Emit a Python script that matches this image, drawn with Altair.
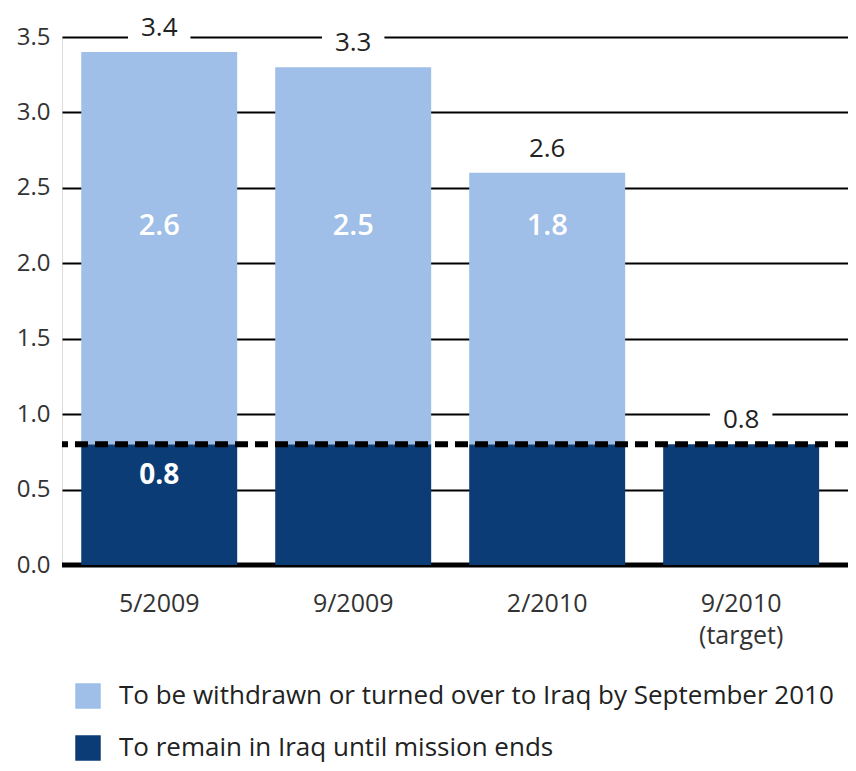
import altair as alt
import pandas as pd

dates = ["5/2009", "9/2009", "2/2010", "9/2010 (target)"]
withdrawn = [2.6, 2.5, 1.8, 0.0]
remain = [0.8, 0.8, 0.8, 0.8]
totals = [3.4, 3.3, 2.6, 0.8]
withdrawn_labels = ["2.6", "2.5", "1.8", ""]
remain_labels = ["0.8", "", "", ""]
series = ["To be withdrawn or turned over to Iraq by September 2010",
          "To remain in Iraq until mission ends"]
colors = ["#9fbfe8", "#0b3c76"]
y_ticks = [0.0, 0.5, 1.0, 1.5, 2.0, 2.5, 3.0, 3.5]
target_level = 0.8

FONT = "Open Sans"

rows = []
for d, w, r in zip(dates, withdrawn, remain):
    rows.append({"date": d, "series": series[1], "value": r, "ord": 0})
    rows.append({"date": d, "series": series[0], "value": w, "ord": 1})
df = pd.DataFrame(rows)

df_tot = pd.DataFrame({"date": dates, "total": totals, "label": [f"{t:.1f}" for t in totals]})
df_in = pd.DataFrame({"date": dates, "wl": withdrawn_labels, "rl": remain_labels})

x_enc = alt.X("date:N", sort=dates,
              scale=alt.Scale(paddingInner=0.196, paddingOuter=0.124, align=0.40),
              axis=alt.Axis(title=None, labelAngle=0, domain=False, ticks=False,
                            labelPadding=26, labelFontSize=25, labelColor="#333333",
                            labelFont=FONT, labelLineHeight=32,
                            labelExpr="datum.label == '9/2010 (target)' ? ['9/2010', '(target)'] : datum.label"))
y_scale = alt.Scale(domain=[0, 3.5], nice=False)

base = alt.Chart(df)

zero_rule = alt.Chart(pd.DataFrame({"v": [0.0]})).mark_rule(color="black", strokeWidth=5).encode(
    y=alt.Y("v:Q", scale=y_scale))

bars = base.mark_bar().encode(
    x=x_enc,
    y=alt.Y("value:Q", stack="zero", scale=y_scale,
            axis=alt.Axis(title=None, values=y_ticks, format=".1f", domain=False, ticks=False,
                          labelPadding=12, labelFontSize=24, labelColor="#333333", labelFont=FONT,
                          grid=True, gridColor="black", gridWidth=2)),
    color=alt.Color("series:N", scale=alt.Scale(domain=series, range=colors),
                    legend=alt.Legend(title=None, orient="none", legendX=13, legendY=646,
                                      symbolType="square", symbolSize=650, symbolStrokeWidth=0,
                                      labelFontSize=26, labelFont=FONT, labelColor="#222222",
                                      labelLimit=900, labelOffset=18, rowPadding=26,
                                      symbolOpacity=1)),
    order=alt.Order("ord:Q"),
)

dash = alt.Chart(pd.DataFrame({"v": [target_level]})).mark_rule(
    color="black", strokeWidth=6, strokeDash=[13, 7]).encode(y=alt.Y("v:Q", scale=y_scale))

# white box behind each total label, interrupting the gridline as in the original
halo = alt.Chart(df_tot).mark_point(shape="M-1,-0.4H1V0.4H-1Z", filled=True, fill="white",
                                    strokeWidth=0, opacity=1, size=3900, yOffset=-24).encode(
    x=alt.X("date:N", sort=dates), y=alt.Y("total:Q", scale=y_scale))
tot_text = alt.Chart(df_tot).mark_text(baseline="middle", dy=-24, fontSize=26, font=FONT,
                                       color="#222222").encode(
    x=alt.X("date:N", sort=dates), y=alt.Y("total:Q", scale=y_scale), text="label:N")

in_text = alt.Chart(df_in).mark_text(fontSize=29, font=FONT, fontWeight=600,
                                     color="white", baseline="middle").encode(
    x=alt.X("date:N", sort=dates), y=alt.datum(2.25), text="wl:N")
low_text = alt.Chart(df_in).mark_text(fontSize=28, font=FONT, fontWeight="bold",
                                      color="white", baseline="top", dy=18).encode(
    x=alt.X("date:N", sort=dates), y=alt.datum(target_level), text="rl:N")

chart = alt.layer(zero_rule, bars, dash, halo, tot_text, in_text, low_text).properties(
    width=786, height=528,
    autosize=alt.AutoSizeParams(type="none"),
    padding={"left": 54, "top": 29, "right": 0, "bottom": 198}
).configure_view(stroke=None).configure(background="white")

chart.save("out.html", embed_options={"renderer": "svg", "actions": False})
